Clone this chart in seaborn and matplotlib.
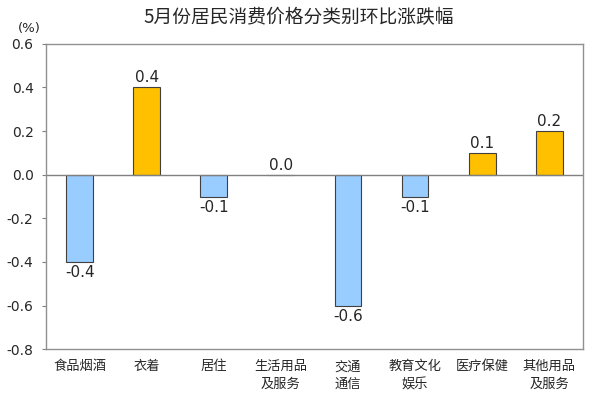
import numpy as np
import pandas as pd
import seaborn as sns
import matplotlib
matplotlib.use('Agg')
from matplotlib import pyplot as plt

categories = ['食品烟酒', '衣着', '居住', '生活用品\n及服务', '交通\n通信',
              '教育文化\n娱乐', '医疗保健', '其他用品\n及服务']
values = [-0.4, 0.4, -0.1, 0.0, -0.6, -0.1, 0.1, 0.2]
y_ticks = [0.6, 0.4, 0.2, 0.0, -0.2, -0.4, -0.6, -0.8]

sns.set_style('white')
plt.rcParams['font.family'] = ['Noto Sans CJK SC', 'DejaVu Sans']

df = pd.DataFrame({'cat': categories, 'val': values})
df['sign'] = np.where(df['val'] > 0, 'up', 'down')

fig = plt.figure(figsize=(5.91, 3.99), dpi=100)
ax = fig.add_axes([0.078, 0.125, 0.908, 0.765])

palette = {'up': '#FFC000', 'down': '#99CCFF'}
sns.barplot(data=df, x='cat', y='val', hue='sign', palette=palette, dodge=False,
            width=0.4, edgecolor='#404040', linewidth=0.8, saturation=1,
            legend=False, ax=ax)

for i, v in enumerate(values):
    if v >= 0:
        ax.text(i, v + 0.01, f'{v:.1f}', ha='center', va='bottom', fontsize=11,
                family='DejaVu Sans')
    else:
        ax.text(i, v - 0.015, f'{v:.1f}', ha='center', va='top', fontsize=11,
                family='DejaVu Sans')

ax.axhline(0, color='#808080', linewidth=1)
ax.set_ylim(-0.8, 0.6)
ax.set_yticks(y_ticks)
ax.set_yticklabels([f'{t:.1f}' for t in y_ticks], family='DejaVu Sans', fontsize=10)
ax.set_xlim(-0.5, len(categories) - 0.5)
ax.set_xlabel('')
ax.set_ylabel('')
ax.tick_params(axis='x', length=0, labelsize=9.5, pad=8)
for lbl in ax.get_xticklabels():
    lbl.set_linespacing(1.5)
ax.tick_params(axis='y', length=3, left=True, direction='out', color='#808080', pad=6)
for s in ax.spines.values():
    s.set_color('#909090')
    s.set_linewidth(1)

fig.text(0.505, 0.955, '5月份居民消费价格分类别环比涨跌幅', ha='center', va='center',
         fontsize=13.5, fontweight='medium')
fig.text(0.03, 0.928, '(%)', ha='left', va='center', fontsize=9.5, family='DejaVu Sans')

fig.savefig('out.png', dpi=100)
